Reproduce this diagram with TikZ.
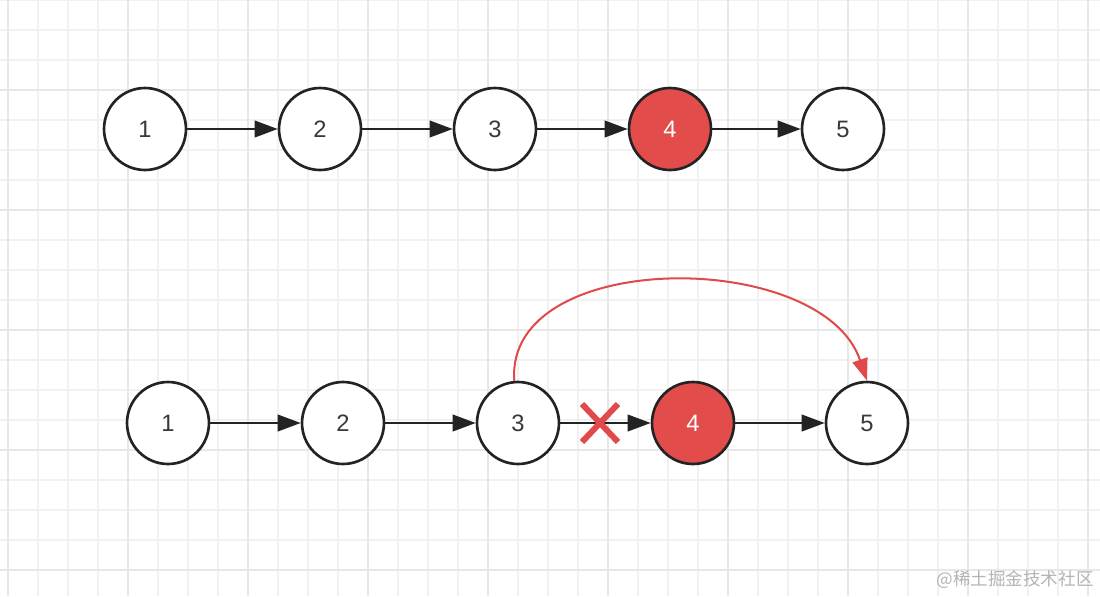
\documentclass[tikz,border=0pt]{standalone}
\usepackage{fontspec}
\setmainfont{Liberation Sans}
\newfontfamily\cjk{Noto Sans CJK SC}
\usetikzlibrary{arrows.meta}
\definecolor{listedge}{HTML}{232323}
\definecolor{removedred}{HTML}{E24C4B}
\definecolor{skipred}{HTML}{E04A4A}
\definecolor{gridminor}{HTML}{F1F1F1}
\definecolor{gridmajor}{HTML}{E7E7E7}
\definecolor{markgray}{HTML}{B4B4B4}

\begin{document}
\begin{tikzpicture}[
  x=0.02cm,
  y=-0.02cm,
  line join=round,
  listnode/.style={circle,draw=listedge,line width=1.5pt,fill=white,minimum size=1.64cm,inner sep=0pt,
    font=\fontsize{13.5}{16}\selectfont,text=listedge!90},
  removed/.style={listnode,fill=removedred,text=white},
  nextptr/.style={draw=listedge,line width=1.35pt,-{Triangle[length=4.6mm,width=3.3mm]}},
  skipptr/.style={draw=skipred,line width=1.15pt,-{Triangle[length=4.4mm,width=3.1mm]}},
  cutmark/.style={draw=skipred,line width=3.4pt},
  minorline/.style={draw=gridminor,line width=0.6pt},
  majorline/.style={draw=gridmajor,line width=1pt}
]
  \useasboundingbox (0,0) rectangle (1100,596);
  \fill[white] (0,0) rectangle (1100,596);

  % Background grid, a heavier line every fourth cell.
  \foreach \gx in {8,38,...,1100} {
    \draw[minorline] (\gx,0) -- (\gx,596);
  }
  \foreach \gy in {0,30,...,596} {
    \draw[minorline] (0,\gy) -- (1100,\gy);
  }
  \foreach \gx in {8,128,...,1100} {
    \draw[majorline] (\gx,0) -- (\gx,596);
  }
  \foreach \gy in {90,210,...,596} {
    \draw[majorline] (0,\gy) -- (1100,\gy);
  }

  % Original list.
  \node[listnode] (t1) at (145,129) {1};
  \node[listnode] (t2) at (320,129) {2};
  \node[listnode] (t3) at (495,129) {3};
  \node[removed]  (t4) at (670,129) {4};
  \node[listnode] (t5) at (843,129) {5};

  \foreach \a/\b in {t1/t2,t2/t3,t3/t4,t4/t5} {
    \draw[nextptr] (\a) -- (\b);
  }

  % List after unlinking node 4.
  \node[listnode] (b1) at (168,423) {1};
  \node[listnode] (b2) at (343,423) {2};
  \node[listnode] (b3) at (518,423) {3};
  \node[removed]  (b4) at (693,423) {4};
  \node[listnode] (b5) at (867,423) {5};

  \foreach \a/\b in {b1/b2,b2/b3,b3/b4,b4/b5} {
    \draw[nextptr] (\a) -- (\b);
  }

  % New pointer from 3 over 4 to 5.
  \draw[skipptr] (b3.95) .. controls +(-10,-133) and +(-45,-133) .. (b5.north);

  % Cut old link.
  \coordinate (cut) at (600,423);
  \draw[cutmark] ([shift={(-18,-19)}]cut) -- ([shift={(18,19)}]cut);
  \draw[cutmark] ([shift={(-18,19)}]cut) -- ([shift={(18,-19)}]cut);

  % Watermark.
  \node[anchor=east,inner sep=0pt,text=markgray,font=\cjk\fontsize{10}{12}\selectfont] (mark) at (1094,580) {@稀土掘金技术社区};
\end{tikzpicture}
\end{document}
